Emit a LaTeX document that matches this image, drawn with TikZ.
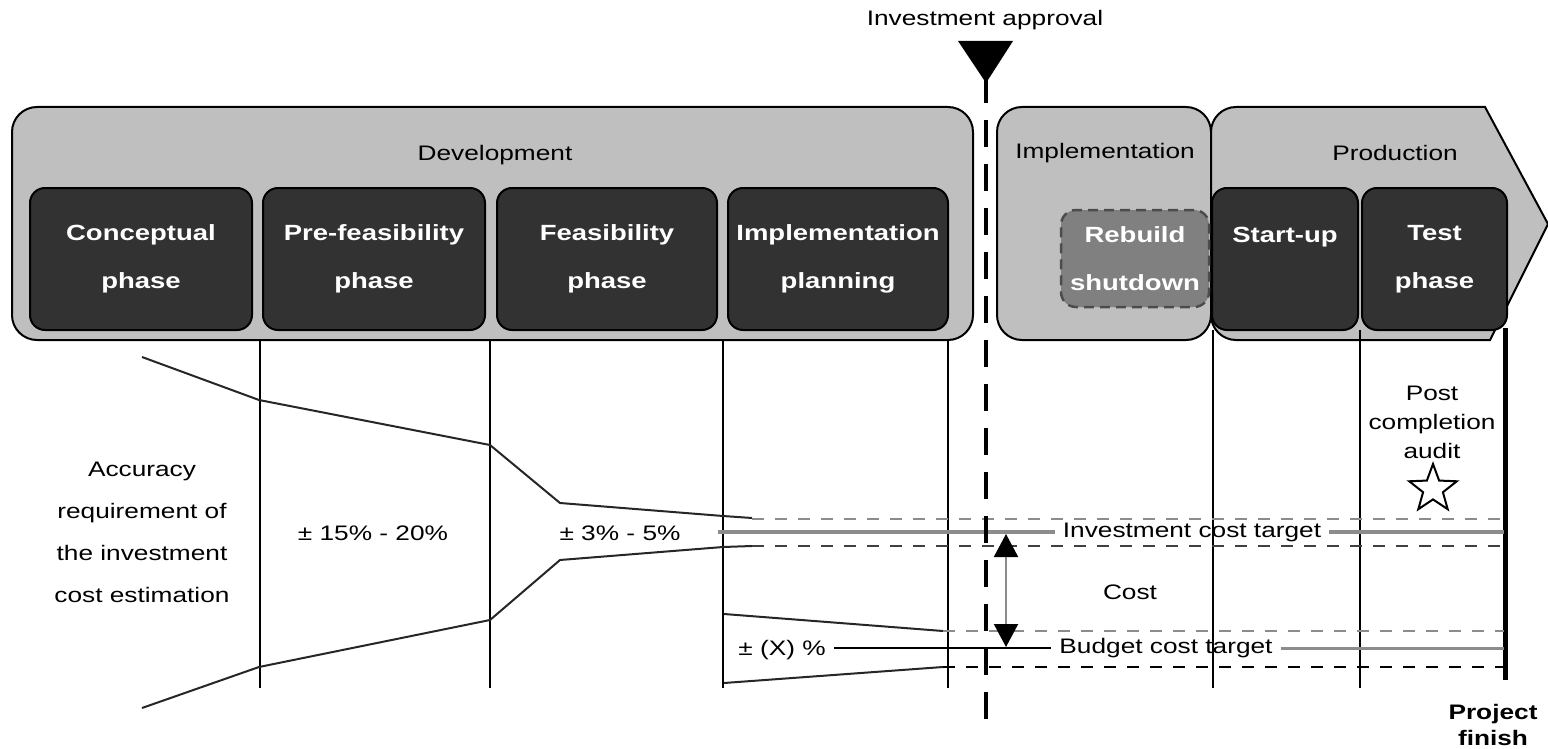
\documentclass[tikz,border=0pt]{standalone}
\usepackage{fontspec}
\setmainfont{Liberation Sans}[FakeStretch=1.25]
\usetikzlibrary{arrows.meta}
\usetikzlibrary{shapes.geometric}
\usepackage{xcolor}

\definecolor{phasegray}{HTML}{BFBFBF}
\definecolor{stepdark}{HTML}{323232}
\definecolor{rebuildgray}{HTML}{808080}
\definecolor{targetgray}{HTML}{8C8C8C}

\tikzset{
  phase/.style={draw=black, line width=2pt, fill=phasegray},
  stepbox/.style={draw=black, line width=2pt, fill=stepdark, rounded corners=15pt, text=white, align=center, inner sep=0pt, minimum height=142pt, font=\fontsize{22}{48}\selectfont\bfseries},
  lbl/.style={font=\fontsize{21}{42}\selectfont, align=center, inner sep=2pt},
  funnel/.style={black!85, line width=2pt},
  band/.style={line width=2.5pt, dash pattern=on 12pt off 11pt},
  bound/.style={black, line width=2pt},
  costtip/.tip={Triangle[width=24pt, length=23pt, color=black]}
}

\begin{document}
\begin{tikzpicture}[x=1pt, y=1pt]
\useasboundingbox (0,0) rectangle (1548,-749);

% phases
\draw[phase, rounded corners=25pt] (12,-107) rectangle (973,-340);
\draw[phase, rounded corners=25pt] (997,-107) rectangle (1211,-340);
\draw[phase] (1236,-107) -- (1485,-107) -- (1548,-224) -- (1490,-340) -- (1236,-340) arc[start angle=270, end angle=180, radius=25pt] -- (1211,-132) arc[start angle=180, end angle=90, radius=25pt] -- cycle;
\node[lbl] (dev) at (495,-155) {Development};
\node[lbl] (impl) at (1105,-153) {Implementation};
\node[lbl] (prod) at (1395,-153) {Production};

% steps
\node[stepbox, minimum width=222pt] (concept) at (141,-259) {Conceptual\\phase};
\node[stepbox, minimum width=222pt] (prefeas) at (374,-259) {Pre-feasibility\\phase};
\node[stepbox, minimum width=220pt] (feas) at (607,-259) {Feasibility\\phase};
\node[stepbox, minimum width=220pt] (implplan) at (838,-259) {Implementation\\planning};
\node[stepbox, fill=rebuildgray, draw=black!70, line width=2.5pt, dash pattern=on 10pt off 6pt, minimum width=148pt, minimum height=97pt] (rebuild) at (1135,-258.5) {Rebuild\\shutdown};
\node[stepbox, minimum width=146pt] (startup) at (1285,-259) {Start-up\\~};
\node[stepbox, minimum width=145pt] (test) at (1434.5,-259) {Test\\phase};

\foreach \x in {260,490,723,948}
  \draw[bound] (\x,-339) -- (\x,-688);
\foreach \x in {1213,1360}
  \draw[bound] (\x,-330) -- (\x,-688);
\draw[bound, line width=5pt] (1505,-328) -- (1505,-680);

% accuracy funnel
\draw[funnel] (142,-357) -- (259,-400) -- (490,-445) -- (560,-503) -- (723,-516) -- (752,-518);
\draw[funnel] (142,-708) -- (259,-667) -- (490,-620) -- (560,-560) -- (723,-547) -- (752,-546);
\draw[funnel] (724,-614) -- (943,-631);
\draw[funnel] (724,-683) -- (943,-667);
\draw[band, targetgray] (752,-519) -- (1504,-519);
\draw[band, black!75] (752,-546) -- (1504,-546);
\draw[band, targetgray] (943,-631) -- (1504,-631);
\draw[band, black] (943,-667) -- (1504,-667);

\node[lbl] (accuracy) at (142,-532) {Accuracy\\requirement of\\the investment\\cost estimation};
\node[lbl] (wide) at (373,-533) {± 15\% - 20\%};
\node[lbl] (narrow) at (620,-533) {± 3\% - 5\%};

% targets
\coordinate (invstart) at (718,-532);
\coordinate (invend) at (1504,-532);
\coordinate (budend) at (1504,-648);
\node[lbl, inner xsep=8pt] (invtarget) at (1192,-532) {Investment cost target};
\node[lbl, inner xsep=8pt] (budtarget) at (1166,-648) {Budget cost target};
\node[lbl, inner xsep=8pt] (xpct) at (782,-650) {± (X) \%};
\draw[targetgray, line width=4pt] (invstart) -- (invtarget.west);
\draw[targetgray, line width=4pt] (invtarget.east) -- (invend);
\draw[black, line width=2pt] (xpct.east |- budtarget) -- (budtarget.west);
\draw[targetgray, line width=3pt] (budtarget.east) -- (budend);

\coordinate (costtop) at (1006,-534);
\coordinate (costbot) at (1006,-647);
\draw[targetgray, line width=2pt, costtip-costtip] (costtop) -- (costbot);
\node[lbl] (cost) at (1130,-592) {Cost};

% approval
\node[lbl] (approval) at (985,-20) {Investment approval};
\fill[black] (958,-41) -- (1013,-41) -- (986,-83) -- cycle;
\draw[line width=4pt, dash pattern=on 27pt off 17pt] (986,-76) -- (986,-722);

% audit
\node[lbl, font=\fontsize{21}{29}\selectfont] (audit) at (1432,-422) {Post\\completion\\audit};
\node[star, star points=5, star point ratio=2.4, draw=black, fill=white, line width=2pt, minimum size=50pt, inner sep=0pt] (auditstar) at (1433,-489) {};
\node[lbl, font=\fontsize{21}{26}\selectfont\bfseries] (finish) at (1493,-725) {Project\\finish};
\end{tikzpicture}
\end{document}
